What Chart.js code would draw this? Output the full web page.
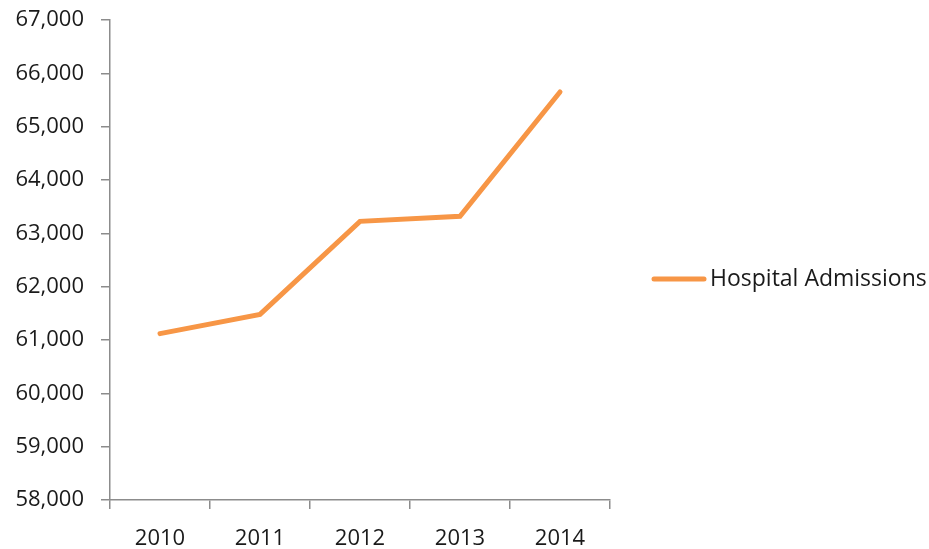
<!DOCTYPE html>
<html>
<head>
<meta charset="utf-8">
<script src="https://cdn.jsdelivr.net/npm/chart.js@4/dist/chart.umd.min.js"></script>
<style>
  html, body { margin: 0; padding: 0; background: #ffffff; }
  #wrap { position: relative; width: 929px; height: 549px; }
</style>
</head>
<body>
<div id="wrap"><canvas id="c" width="929" height="549"></canvas></div>
<script>
const categories = ['2010', '2011', '2012', '2013', '2014'];
const seriesName = 'Hospital Admissions';
const admissions = [61120, 61480, 63225, 63320, 65650];
const yMin = 58000;
const yMax = 67000;
const yStep = 1000;

const lineColor = '#F79646';
const axisColor = '#8C8C8C';
const textColor = '#1A1A1A';
const fontFamily = '"Open Sans", "Liberation Sans", sans-serif';

const legendPlugin = {
  id: 'sideLegend',
  afterDraw(chart) {
    const ctx = chart.ctx;
    const ds = chart.data.datasets[0];
    const y = 279;
    ctx.save();
    ctx.strokeStyle = ds.borderColor;
    ctx.lineWidth = 5;
    ctx.lineCap = 'round';
    ctx.beginPath();
    ctx.moveTo(654, y);
    ctx.lineTo(704, y);
    ctx.stroke();
    ctx.fillStyle = textColor;
    ctx.font = '23px ' + fontFamily;
    ctx.textBaseline = 'middle';
    ctx.textAlign = 'left';
    ctx.fillText(ds.label, 710, y);
    ctx.restore();
  }
};

new Chart(document.getElementById('c'), {
  type: 'line',
  data: {
    labels: categories,
    datasets: [{
      label: seriesName,
      data: admissions,
      borderColor: lineColor,
      backgroundColor: lineColor,
      borderWidth: 5,
      borderCapStyle: 'round',
      borderJoinStyle: 'miter',
      pointRadius: 0,
      tension: 0,
      fill: false
    }]
  },
  options: {
    responsive: false,
    animation: false,
    devicePixelRatio: 1,
    layout: { padding: { left: 0, right: 319, top: 20, bottom: 0 } },
    plugins: {
      legend: { display: false },
      tooltip: { enabled: false }
    },
    scales: {
      x: {
        offset: true,
        grid: {
          offset: true,
          drawOnChartArea: false,
          drawTicks: true,
          tickLength: 9,
          color: axisColor,
          lineWidth: 1.5
        },
        border: { color: axisColor, width: 1.5 },
        ticks: {
          color: textColor,
          font: { family: fontFamily, size: 22 },
          padding: 17,
          maxRotation: 0
        },
        afterFit(scale) { scale.height = 49; scale.paddingLeft = 0; scale.paddingRight = 0; }
      },
      y: {
        min: yMin,
        max: yMax,
        grid: {
          drawOnChartArea: false,
          drawTicks: true,
          tickLength: 9,
          color: axisColor,
          lineWidth: 1.5
        },
        border: { color: axisColor, width: 1.5 },
        ticks: {
          stepSize: yStep,
          color: textColor,
          font: { family: fontFamily, size: 22 },
          padding: 17,
          callback: (v) => v.toLocaleString('en-US')
        },
        afterFit(scale) { scale.width = 110; scale.paddingTop = 0; scale.paddingBottom = 0; }
      }
    }
  },
  plugins: [legendPlugin]
});
</script>
</body>
</html>
